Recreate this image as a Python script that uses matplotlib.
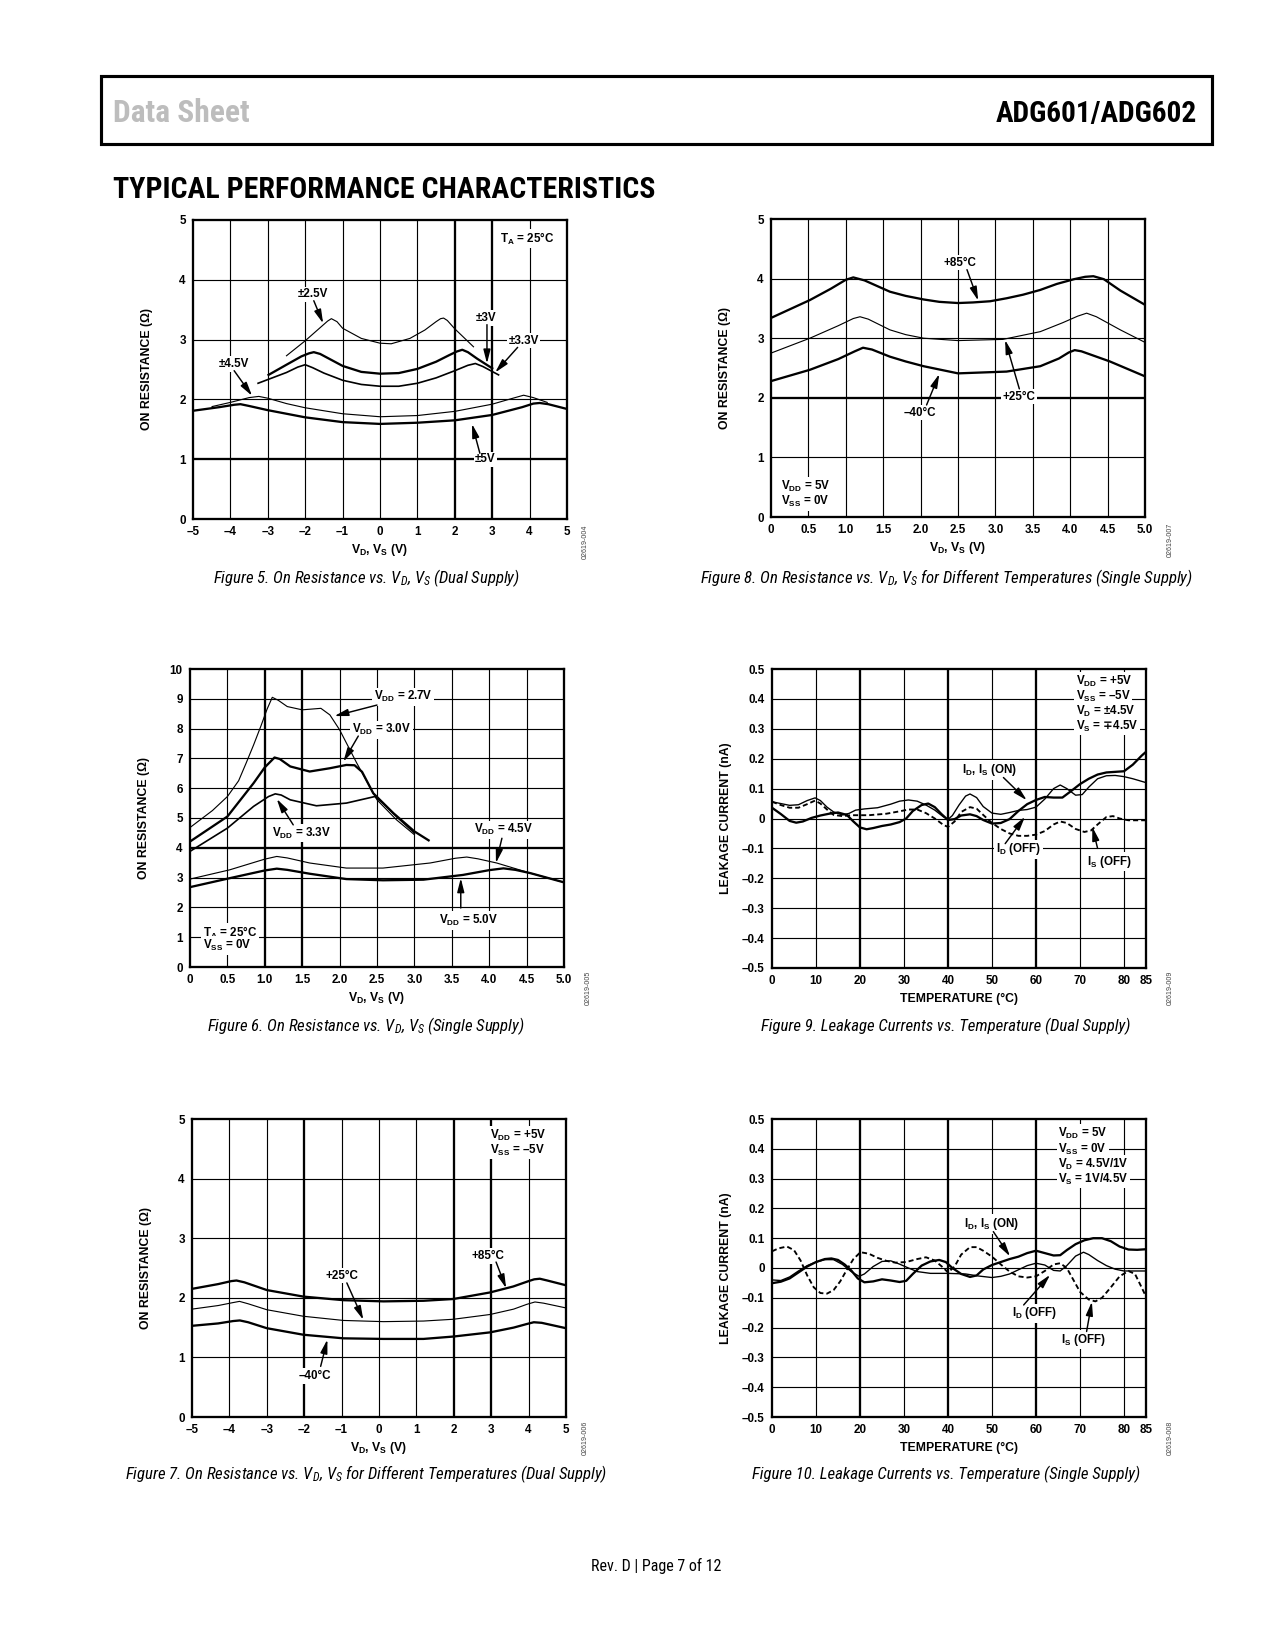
import matplotlib
matplotlib.use('Agg')
import matplotlib.pyplot as plt
from matplotlib.patches import Rectangle
from matplotlib import font_manager as fm

AVAIL = {f.name for f in fm.fontManager.ttflist}


def pick(prefs, default='DejaVu Sans'):
    for p in prefs:
        if p in AVAIL:
            return p
    return default


HEAD_FONT = pick(['Roboto Condensed', 'DejaVu Sans Condensed', 'Liberation Sans Narrow',
                  'Open Sans Condensed', 'Liberation Sans'])
CAP_FONT = pick(['Roboto Condensed', 'Liberation Sans Narrow', 'DejaVu Sans Condensed', 'Lato', 'Roboto'])

plt.rcParams['font.family'] = ['Liberation Sans', 'DejaVu Sans']
plt.rcParams['mathtext.fontset'] = 'custom'
plt.rcParams['mathtext.rm'] = 'Liberation Sans'
plt.rcParams['mathtext.bf'] = 'Liberation Sans:bold'
plt.rcParams['mathtext.sf'] = 'DejaVu Sans:bold'
plt.rcParams['mathtext.it'] = CAP_FONT + ':italic'

# ---------------- DATA ----------------
# Figure 5: On resistance vs VD, VS (dual supply)
f5_x_25 = [-2.5, -2.0, -1.6, -1.4, -1.3, -1.15, -1.0, -0.5, 0.0, 0.3, 0.8, 1.2, 1.5, 1.62, 1.7, 1.8, 2.0, 2.5]
f5_r_25 = [2.73, 2.98, 3.20, 3.31, 3.35, 3.30, 3.19, 3.02, 2.94, 2.93, 3.02, 3.16, 3.30, 3.35, 3.36, 3.32, 3.18, 2.88]
f5_x_30 = [-2.98, -2.5, -2.1, -1.9, -1.77, -1.6, -1.3, -1.0, -0.5, 0.0, 0.5, 1.0, 1.5, 1.85, 2.05, 2.2, 2.35, 2.6, 3.0]
f5_r_30 = [2.41, 2.58, 2.72, 2.77, 2.79, 2.76, 2.66, 2.56, 2.46, 2.43, 2.44, 2.51, 2.63, 2.74, 2.80, 2.83, 2.79, 2.68, 2.52]
f5_x_33 = [-3.26, -2.5, -2.2, -2.0, -1.8, -1.5, -1.0, -0.5, 0.0, 0.5, 1.0, 1.5, 2.0, 2.35, 2.55, 2.75, 3.17]
f5_r_33 = [2.27, 2.45, 2.54, 2.58, 2.53, 2.44, 2.32, 2.25, 2.22, 2.22, 2.27, 2.36, 2.48, 2.57, 2.60, 2.55, 2.41]
f5_x_45 = [-4.49, -4.0, -3.5, -3.24, -3.0, -2.5, -2.0, -1.0, 0.0, 1.0, 2.0, 3.0, 3.5, 3.84, 4.1, 4.47]
f5_r_45 = [1.88, 1.95, 2.03, 2.05, 2.02, 1.93, 1.86, 1.76, 1.71, 1.73, 1.80, 1.92, 2.01, 2.07, 2.03, 1.95]
f5_x_50 = [-5.0, -4.3, -3.9, -3.73, -3.5, -3.0, -2.0, -1.0, 0.0, 1.0, 2.0, 3.0, 3.8, 4.1, 4.27, 4.5, 5.0]
f5_r_50 = [1.81, 1.87, 1.91, 1.92, 1.89, 1.82, 1.70, 1.62, 1.59, 1.61, 1.65, 1.74, 1.87, 1.93, 1.94, 1.92, 1.84]

# Figure 8: On resistance vs VD, VS, temperatures (single supply)
f8_x_85 = [0.0, 0.52, 0.8, 1.0, 1.1, 1.25, 1.59, 1.8, 2.04, 2.25, 2.5, 2.7, 2.93, 3.15, 3.37, 3.6, 3.82, 4.05,
           4.2, 4.31, 4.45, 4.67, 5.0]
f8_r_85 = [3.34, 3.64, 3.83, 3.98, 4.02, 3.97, 3.78, 3.71, 3.65, 3.61, 3.59, 3.60, 3.62, 3.67, 3.73, 3.81, 3.91,
           3.99, 4.03, 4.04, 3.99, 3.80, 3.56]
f8_x_25 = [0.0, 0.52, 0.9, 1.1, 1.19, 1.3, 1.59, 1.8, 2.04, 2.5, 3.1, 3.6, 3.9, 4.1, 4.22, 4.35, 4.67, 5.0]
f8_r_25 = [2.75, 3.00, 3.21, 3.33, 3.36, 3.32, 3.14, 3.06, 3.00, 2.96, 2.98, 3.11, 3.26, 3.37, 3.42, 3.36, 3.14, 2.93]
f8_x_m40 = [0.0, 0.52, 0.9, 1.12, 1.23, 1.35, 1.59, 1.8, 2.04, 2.5, 3.15, 3.6, 3.85, 3.98, 4.06, 4.15, 4.53, 5.0]
f8_r_m40 = [2.28, 2.47, 2.65, 2.78, 2.84, 2.81, 2.69, 2.61, 2.53, 2.41, 2.44, 2.53, 2.66, 2.76, 2.80, 2.78, 2.61, 2.36]

# Figure 6: On resistance vs VD, VS (single supply)
f6_x_27 = [0.0, 0.3, 0.5, 0.65, 0.75, 0.85, 0.95, 1.03, 1.1, 1.18, 1.3, 1.5, 1.75, 1.87, 2.0, 2.23, 2.5, 2.76, 3.0]
f6_r_27 = [4.68, 5.25, 5.72, 6.25, 6.84, 7.45, 8.10, 8.65, 9.05, 8.95, 8.74, 8.63, 8.68, 8.46, 7.96, 6.84, 5.61, 4.94, 4.44]
f6_x_30 = [0.0, 0.5, 0.85, 1.0, 1.13, 1.2, 1.34, 1.6, 1.87, 2.09, 2.2, 2.3, 2.45, 2.72, 3.0, 3.19]
f6_r_30 = [4.21, 5.05, 6.17, 6.70, 7.03, 6.98, 6.73, 6.56, 6.67, 6.78, 6.77, 6.55, 5.83, 5.16, 4.55, 4.25]
f6_x_33 = [0.0, 0.5, 0.85, 1.05, 1.14, 1.22, 1.34, 1.69, 2.09, 2.35, 2.47, 2.58, 2.76, 3.0]
f6_r_33 = [3.88, 4.66, 5.39, 5.72, 5.81, 5.77, 5.61, 5.41, 5.50, 5.65, 5.72, 5.50, 5.05, 4.50]
f6_x_45 = [0.0, 0.53, 1.0, 1.16, 1.3, 1.6, 2.09, 2.58, 3.21, 3.55, 3.7, 3.85, 4.1, 4.55, 5.0]
f6_r_45 = [2.95, 3.26, 3.62, 3.71, 3.66, 3.49, 3.32, 3.32, 3.49, 3.65, 3.69, 3.63, 3.49, 3.15, 2.84]
f6_x_50 = [0.0, 0.53, 1.0, 1.16, 1.3, 1.6, 2.09, 2.58, 3.12, 3.65, 4.0, 4.19, 4.35, 4.55, 5.0]
f6_r_50 = [2.68, 2.98, 3.24, 3.30, 3.26, 3.13, 2.95, 2.91, 2.93, 3.09, 3.25, 3.31, 3.26, 3.15, 2.84]

# Figure 9: Leakage currents vs temperature (dual supply)
f9_t_on = [0, 2, 4, 5.5, 7, 9, 11, 13, 15, 17, 18.5, 20, 21.5, 23, 25, 27, 29, 30.5, 32, 34, 35.5, 37, 38.5,
           40, 41.5, 43, 45, 46.5, 48, 50, 52, 54, 56, 58, 60, 62, 64, 66, 68, 70, 72, 74, 76, 78, 80, 82, 84, 85]
f9_i_on = [0.036, 0.015, -0.008, -0.014, -0.01, 0.002, 0.01, 0.016, 0.02, 0.012, -0.01, -0.03, -0.036, -0.032,
           -0.025, -0.02, -0.012, 0.0, 0.025, 0.045, 0.05, 0.038, 0.015, -0.005, -0.002, 0.01, 0.014, 0.008,
           -0.005, -0.017, -0.015, -0.002, 0.025, 0.048, 0.062, 0.072, 0.07, 0.07, 0.092, 0.115, 0.133, 0.147,
           0.154, 0.156, 0.158, 0.18, 0.21, 0.223]
f9_t_doff = [0, 2, 4, 6, 8, 9.8, 11, 12.5, 14, 16, 17.5, 19, 21, 24, 27, 29, 31, 33, 35, 37, 39, 40, 41, 42.5,
             44, 45, 46.5, 48, 50, 52, 54, 56, 58, 60, 62, 64, 65.5, 67, 69, 70.5, 72, 74, 76, 78, 80, 82, 85]
f9_i_doff = [0.056, 0.05, 0.044, 0.046, 0.06, 0.069, 0.06, 0.038, 0.022, 0.012, 0.017, 0.028, 0.032, 0.036,
             0.048, 0.058, 0.062, 0.058, 0.045, 0.028, 0.005, -0.003, 0.01, 0.045, 0.075, 0.082, 0.07, 0.04,
             0.018, 0.014, 0.02, 0.027, 0.03, 0.038, 0.065, 0.1, 0.112, 0.1, 0.078, 0.08, 0.105, 0.133, 0.143,
             0.144, 0.14, 0.133, 0.12]
f9_t_soff = [0, 2, 4, 6, 8, 9.8, 11, 12.5, 14, 16, 18, 22, 26, 29, 31, 33, 35, 37, 39, 40, 41.5, 43, 45, 46.5,
             48, 50, 52, 54, 56, 58, 60, 62, 64, 65.5, 67, 69, 71, 72.5, 74, 76, 77.5, 79, 81, 85]
f9_i_soff = [0.056, 0.045, 0.036, 0.036, 0.048, 0.06, 0.05, 0.03, 0.012, 0.008, 0.011, 0.011, 0.016, 0.024,
             0.03, 0.03, 0.018, 0.0, -0.022, -0.028, -0.01, 0.022, 0.038, 0.033, 0.012, -0.015, -0.035, -0.05,
             -0.058, -0.058, -0.054, -0.042, -0.02, -0.01, -0.015, -0.035, -0.045, -0.04, -0.02, 0.005, 0.008,
             0.0, -0.006, -0.006]

# Figure 7: On resistance vs VD, VS, temperatures (dual supply)
f7_x_85 = [-5.0, -4.3, -3.95, -3.81, -3.6, -3.0, -2.02, -0.95, 0.12, 1.19, 1.99, 2.97, 3.59, 4.0, 4.15, 4.3,
           4.5, 5.0]
f7_r_85 = [2.15, 2.23, 2.28, 2.29, 2.26, 2.13, 2.02, 1.96, 1.94, 1.95, 1.98, 2.09, 2.19, 2.28, 2.31, 2.32,
           2.29, 2.21]
f7_x_25 = [-5.0, -4.3, -3.9, -3.73, -3.5, -3.0, -2.02, -0.95, 0.12, 1.19, 1.99, 2.97, 3.6, 3.95, 4.17, 4.4, 5.0]
f7_r_25 = [1.81, 1.87, 1.92, 1.94, 1.90, 1.80, 1.69, 1.62, 1.60, 1.61, 1.64, 1.72, 1.81, 1.89, 1.93, 1.91, 1.83]
f7_x_m40 = [-5.0, -4.3, -3.9, -3.72, -3.5, -3.0, -2.02, -0.95, 0.12, 1.19, 1.99, 2.97, 3.6, 3.95, 4.14, 4.35,
            5.0]
f7_r_m40 = [1.53, 1.57, 1.61, 1.62, 1.59, 1.49, 1.38, 1.32, 1.31, 1.31, 1.35, 1.42, 1.50, 1.56, 1.59, 1.58,
            1.49]

# Figure 10: Leakage currents vs temperature (single supply)
f10_t_on = [0, 2, 4, 6, 8, 10, 12, 13.5, 15, 16.5, 18, 19.5, 21, 23, 25, 27, 29, 30.5, 32, 34, 36, 38, 39.5,
            41, 43, 45, 46.5, 48, 50, 52, 54, 56, 58, 60, 62, 64, 65.5, 67, 69, 71, 73, 75, 77, 79, 81, 83, 85]
f10_i_on = [-0.051, -0.046, -0.035, -0.015, 0.005, 0.02, 0.03, 0.032, 0.027, 0.012, -0.008, -0.035, -0.048,
            -0.045, -0.038, -0.042, -0.047, -0.043, -0.02, 0.008, 0.022, 0.027, 0.02, 0.0, -0.02, -0.03, -0.025,
            -0.005, 0.01, 0.02, 0.03, 0.038, 0.05, 0.058, 0.05, 0.042, 0.043, 0.06, 0.08, 0.093, 0.1, 0.1,
            0.09, 0.072, 0.062, 0.061, 0.063]
f10_t_doff = [0, 2, 4, 6, 8, 10, 12, 14, 16, 18, 19.8, 21, 23, 25, 27, 29, 31, 33, 36, 40, 44, 47, 50, 52, 54,
              56, 58, 60, 62, 64, 65.5, 67, 69, 70.8, 72, 74, 76, 78, 80, 85]
f10_i_doff = [-0.04, -0.042, -0.03, -0.01, 0.008, 0.02, 0.028, 0.028, 0.012, -0.012, -0.028, -0.02, 0.005,
              0.022, 0.024, 0.013, 0.0, -0.012, -0.018, -0.018, -0.02, -0.027, -0.032, -0.028, -0.02, -0.006,
              0.008, 0.016, 0.01, -0.008, -0.01, 0.008, 0.04, 0.053, 0.045, 0.025, 0.008, -0.004, -0.01, -0.01]
f10_t_soff = [0, 1.5, 3.4, 5, 6.5, 8, 9.5, 11, 12.5, 14, 15.5, 17, 18.5, 20.1, 22, 24, 26, 28, 30.5, 33, 35, 37,
              39, 40, 41.5, 43, 45, 46.5, 48, 50, 52, 54, 56, 58, 60, 62, 64, 65.5, 67, 68.5, 70, 72, 73.5, 75,
              77, 79, 81, 82.5, 84, 85]
f10_i_soff = [0.056, 0.066, 0.072, 0.06, 0.025, -0.025, -0.065, -0.084, -0.086, -0.074, -0.045, -0.006, 0.03,
              0.053, 0.048, 0.034, 0.024, 0.018, 0.02, 0.03, 0.036, 0.025, 0.0, -0.015, 0.005, 0.045, 0.07, 0.07,
              0.058, 0.038, 0.012, -0.012, -0.028, -0.032, -0.028, -0.01, 0.012, 0.016, 0.0, -0.04, -0.08,
              -0.106, -0.112, -0.1, -0.065, -0.028, -0.01, -0.02, -0.065, -0.096]

# Tick labels
dual_xticks = [-5, -4, -3, -2, -1, 0, 1, 2, 3, 4, 5]
dual_xticklabels = ['–5', '–4', '–3', '–2', '–1', '0', '1', '2', '3', '4', '5']
single_xticks = [0, 0.5, 1.0, 1.5, 2.0, 2.5, 3.0, 3.5, 4.0, 4.5, 5.0]
single_xticklabels = ['0', '0.5', '1.0', '1.5', '2.0', '2.5', '3.0', '3.5', '4.0', '4.5', '5.0']
r5_yticks = [0, 1, 2, 3, 4, 5]
r5_yticklabels = ['0', '1', '2', '3', '4', '5']
r10_yticks = list(range(0, 11))
r10_yticklabels = [str(v) for v in r10_yticks]
temp_xticks = [0, 10, 20, 30, 40, 50, 60, 70, 80, 85]
temp_xticklabels = ['0', '10', '20', '30', '40', '50', '60', '70', '80', '85']
leak_yticks = [-0.5, -0.4, -0.3, -0.2, -0.1, 0, 0.1, 0.2, 0.3, 0.4, 0.5]
leak_yticklabels = ['–0.5', '–0.4', '–0.3', '–0.2', '–0.1', '0', '0.1', '0.2', '0.3', '0.4', '0.5']

# ---------------- FIGURE ----------------
W, H = 1275, 1650
fig = plt.figure(figsize=(W / 150, H / 150), dpi=150)
fig.patch.set_facecolor('white')

THIN, MED, THICK = 0.55, 0.8, 1.1
GTHIN, GTHICK = 0.55, 1.1
TICKFS = 5.6
AXFS = 5.9
LBLFS = 5.6


def make_ax(x0, y0, x1, y1):
    return fig.add_axes([x0 / W, 1 - y1 / H, (x1 - x0) / W, (y1 - y0) / H])


def setup(ax, xlim, ylim, xticks, xtl, yticks, ytl, vgrid, hgrid, thick_v, thick_h, xlabel, ylabel):
    ax.set_xlim(*xlim)
    ax.set_ylim(*ylim)
    ax.set_xticks(xticks)
    ax.set_xticklabels(xtl, fontsize=TICKFS, fontweight='bold')
    ax.set_yticks(yticks)
    ax.set_yticklabels(ytl, fontsize=TICKFS, fontweight='bold')
    ax.tick_params(length=0, pad=3.5)
    for s in ax.spines.values():
        s.set_linewidth(1.1)
    for v in vgrid:
        ax.axvline(v, color='black', lw=GTHICK if v in thick_v else GTHIN, zorder=1)
    for h in hgrid:
        ax.axhline(h, color='black', lw=GTHICK if h in thick_h else GTHIN, zorder=1)
    ax.text(0.5, -31 / 299, xlabel, transform=ax.transAxes, ha='center', va='center',
            fontsize=AXFS, fontweight='bold')
    ax.text(-46 / 374, 0.5, ylabel, transform=ax.transAxes, ha='center', va='center',
            rotation=90, fontsize=AXFS, fontweight='bold')


def label(ax, x, y, s, ha='center'):
    ax.text(x, y, s, ha=ha, va='center', fontsize=LBLFS, fontweight='bold', zorder=2.5,
            bbox=dict(fc='white', ec='none', pad=0.8))


def arrow(ax, x0, y0, x1, y1):
    ax.annotate('', xy=(x1, y1), xytext=(x0, y0), zorder=4,
                arrowprops=dict(arrowstyle='-|>,head_length=0.55,head_width=0.14', lw=0.7,
                                color='black', shrinkA=0, shrinkB=0))


def code(x, y, s):
    fig.text(x / W, 1 - y / H, s, rotation=90, ha='center', va='center', fontsize=3.4, color='#444444')


captions = []


def caption(x, y, s):
    t = fig.text(x / W, 1 - y / H, s, ha='center', va='center', fontsize=8.0, style='italic',
                 family=[CAP_FONT, 'DejaVu Sans'])
    captions.append(t)
    return t


VDVS = r'$\mathbf{V_D}$, $\mathbf{V_S}$ (V)'
RON = 'ON RESISTANCE (Ω)'

# ---- Header ----
fig.patches.append(Rectangle((101 / W, 1 - 144 / H), (1212 - 101) / W, (144 - 76) / H,
                             transform=fig.transFigure, fill=False, lw=1.5, ec='black'))
t_ds = fig.text(113 / W, 1 - 122 / H, 'Data Sheet', ha='left', va='baseline', fontsize=15,
                fontweight='bold', color='#bdbdbd', family=[HEAD_FONT, 'DejaVu Sans'])
t_adg = fig.text(1197 / W, 1 - 122 / H, 'ADG601/ADG602', ha='right', va='baseline', fontsize=15,
                 fontweight='bold', color='black', family=[HEAD_FONT, 'DejaVu Sans'])
t_title = fig.text(113 / W, 1 - 198 / H, 'TYPICAL PERFORMANCE CHARACTERISTICS', ha='left', va='baseline',
                   fontsize=15, fontweight='bold', color='black', family=[HEAD_FONT, 'DejaVu Sans'])
t_foot = fig.text(656 / W, 1 - 1566 / H, 'Rev. D | Page 7 of 12', ha='center', va='center', fontsize=8,
                  family=[CAP_FONT, 'DejaVu Sans'])

# ---- Figure 5 ----
ax = make_ax(193, 220, 567, 519)
setup(ax, (-5, 5), (0, 5), dual_xticks, dual_xticklabels, r5_yticks, r5_yticklabels,
      [-4, -3, -2, -1, 0, 1, 2, 3, 4], [1, 2, 3, 4], [2, 3], [1], VDVS, RON)
ax.plot(f5_x_25, f5_r_25, color='black', lw=THIN, zorder=3)
ax.plot(f5_x_30, f5_r_30, color='black', lw=THICK, zorder=3)
ax.plot(f5_x_33, f5_r_33, color='black', lw=MED, zorder=3)
ax.plot(f5_x_45, f5_r_45, color='black', lw=THIN, zorder=3)
ax.plot(f5_x_50, f5_r_50, color='black', lw=THICK, zorder=3)
label(ax, 3.93, 4.69, r'$\mathbf{T_A}$ = 25°C')
label(ax, -1.8, 3.76, '±2.5V')
arrow(ax, -1.77, 3.65, -1.52, 3.27)
label(ax, 2.84, 3.36, '±3V')
arrow(ax, 2.86, 3.25, 2.86, 2.6)
label(ax, 3.84, 2.98, '±3.3V')
arrow(ax, 3.68, 2.87, 3.08, 2.45)
label(ax, -3.9, 2.59, '±4.5V')
arrow(ax, -3.9, 2.48, -3.42, 2.06)
label(ax, 2.82, 1.0, '±5V')
arrow(ax, 2.67, 1.10, 2.46, 1.59)
caption(366, 578, r'Figure 5. On Resistance vs. $\mathit{V_D}$, $\mathit{V_S}$ (Dual Supply)')
code(585, 542, '02619-004')

# ---- Figure 8 ----
ax = make_ax(771, 219, 1145, 517)
setup(ax, (0, 5), (0, 5), single_xticks, single_xticklabels, r5_yticks, r5_yticklabels,
      [0.5, 1.0, 1.5, 2.0, 2.5, 3.0, 3.5, 4.0, 4.5], [1, 2, 3, 4], [], [2], VDVS, RON)
ax.plot(f8_x_85, f8_r_85, color='black', lw=THICK, zorder=3)
ax.plot(f8_x_25, f8_r_25, color='black', lw=THIN, zorder=3)
ax.plot(f8_x_m40, f8_r_m40, color='black', lw=THICK, zorder=3)
label(ax, 2.53, 4.27, '+85°C')
arrow(ax, 2.62, 4.15, 2.77, 3.63)
label(ax, 3.32, 2.02, '+25°C')
arrow(ax, 3.32, 2.15, 3.13, 2.97)
label(ax, 1.99, 1.75, '–40°C')
arrow(ax, 2.08, 1.88, 2.25, 2.40)
label(ax, 0.14, 0.51, r'$\mathbf{V_{DD}}$ = 5V', ha='left')
label(ax, 0.14, 0.26, r'$\mathbf{V_{SS}}$ = 0V', ha='left')
cap8 = caption(946, 578, r'Figure 8. On Resistance vs. $\mathit{V_D}$, $\mathit{V_S}$ for Different Temperatures (Single Supply)')
code(1170, 540, '02619-007')

# ---- Figure 6 ----
ax = make_ax(190, 669, 564, 967)
setup(ax, (0, 5), (0, 10), single_xticks, single_xticklabels, r10_yticks, r10_yticklabels,
      [0.5, 1.0, 1.5, 2.0, 2.5, 3.0, 3.5, 4.0, 4.5], list(range(1, 10)), [1.0, 1.5], [4], VDVS, RON)
ax.plot(f6_x_27, f6_r_27, color='black', lw=THIN, zorder=3)
ax.plot(f6_x_30, f6_r_30, color='black', lw=THICK, zorder=3)
ax.plot(f6_x_33, f6_r_33, color='black', lw=MED, zorder=3)
ax.plot(f6_x_45, f6_r_45, color='black', lw=THIN, zorder=3)
ax.plot(f6_x_50, f6_r_50, color='black', lw=THICK, zorder=3)
label(ax, 2.85, 9.07, r'$\mathbf{V_{DD}}$ = 2.7V')
arrow(ax, 2.50, 8.79, 1.93, 8.42)
label(ax, 2.56, 7.96, r'$\mathbf{V_{DD}}$ = 3.0V')
arrow(ax, 2.25, 7.75, 2.05, 6.89)
label(ax, 1.49, 4.49, r'$\mathbf{V_{DD}}$ = 3.3V')
arrow(ax, 1.38, 4.77, 1.16, 5.64)
label(ax, 4.19, 4.60, r'$\mathbf{V_{DD}}$ = 4.5V')
arrow(ax, 4.17, 4.32, 4.09, 3.49)
label(ax, 3.72, 1.56, r'$\mathbf{V_{DD}}$ = 5.0V')
arrow(ax, 3.62, 1.98, 3.62, 2.98)
label(ax, 0.17, 1.14, r'$\mathbf{T_A}$ = 25°C', ha='left')
label(ax, 0.17, 0.72, r'$\mathbf{V_{SS}}$ = 0V', ha='left')
caption(366, 1026, r'Figure 6. On Resistance vs. $\mathit{V_D}$, $\mathit{V_S}$ (Single Supply)')
code(588, 988, '02619-005')

# ---- Figure 9 ----
ax = make_ax(772, 669, 1146, 968)
setup(ax, (0, 85), (-0.5, 0.5), temp_xticks, temp_xticklabels, leak_yticks, leak_yticklabels,
      [10, 20, 30, 40, 50, 60, 70, 80], [-0.4, -0.3, -0.2, -0.1, 0, 0.1, 0.2, 0.3, 0.4],
      [20, 40, 60], [], 'TEMPERATURE (°C)', 'LEAKAGE CURRENT (nA)')
ax.plot(f9_t_on, f9_i_on, color='black', lw=THICK, zorder=3)
ax.plot(f9_t_doff, f9_i_doff, color='black', lw=0.65, zorder=3)
ax.plot(f9_t_soff, f9_i_soff, color='black', lw=0.9, ls=(0, (2.7, 1.6)), zorder=3)
label(ax, 69.0, 0.458, r'$\mathbf{V_{DD}}$ = +5V', ha='left')
label(ax, 69.0, 0.407, r'$\mathbf{V_{SS}}$ = –5V', ha='left')
label(ax, 69.0, 0.357, r'$\mathbf{V_D}$ = ±4.5V', ha='left')
label(ax, 69.0, 0.309, r'$\mathbf{V_S}$ = $\mathsf{\mp}$4.5V', ha='left')
label(ax, 49.4, 0.162, r'$\mathbf{I_D}$, $\mathbf{I_S}$ (ON)')
arrow(ax, 52.6, 0.137, 57.9, 0.061)
label(ax, 56.0, -0.103, r'$\mathbf{I_D}$ (OFF)')
arrow(ax, 53.0, -0.084, 57.5, 0.006)
label(ax, 76.8, -0.145, r'$\mathbf{I_S}$ (OFF)')
arrow(ax, 74.0, -0.10, 72.8, -0.028)
caption(946, 1026, 'Figure 9. Leakage Currents vs. Temperature (Dual Supply)')
code(1170, 988, '02619-009')

# ---- Figure 7 ----
ax = make_ax(192, 1119, 566, 1417)
setup(ax, (-5, 5), (0, 5), dual_xticks, dual_xticklabels, r5_yticks, r5_yticklabels,
      [-4, -3, -2, -1, 0, 1, 2, 3, 4], [1, 2, 3, 4], [-2, 2, 3], [], VDVS, RON)
ax.plot(f7_x_85, f7_r_85, color='black', lw=THICK, zorder=3)
ax.plot(f7_x_25, f7_r_25, color='black', lw=THIN, zorder=3)
ax.plot(f7_x_m40, f7_r_m40, color='black', lw=THICK, zorder=3)
label(ax, 2.97, 4.73, r'$\mathbf{V_{DD}}$ = +5V', ha='left')
label(ax, 2.97, 4.48, r'$\mathbf{V_{SS}}$ = –5V', ha='left')
label(ax, 2.92, 2.70, '+85°C')
arrow(ax, 3.13, 2.60, 3.40, 2.16)
label(ax, -1.0, 2.37, '+25°C')
arrow(ax, -0.86, 2.25, -0.42, 1.63)
label(ax, -1.71, 0.69, '–40°C')
arrow(ax, -1.56, 0.85, -1.38, 1.30)
caption(366, 1474, r'Figure 7. On Resistance vs. $\mathit{V_D}$, $\mathit{V_S}$ for Different Temperatures (Dual Supply)')
code(585, 1438, '02619-006')

# ---- Figure 10 ----
ax = make_ax(772, 1119, 1146, 1417)
setup(ax, (0, 85), (-0.5, 0.5), temp_xticks, temp_xticklabels, leak_yticks, leak_yticklabels,
      [10, 20, 30, 40, 50, 60, 70, 80], [-0.4, -0.3, -0.2, -0.1, 0, 0.1, 0.2, 0.3, 0.4],
      [20, 40, 60], [], 'TEMPERATURE (°C)', 'LEAKAGE CURRENT (nA)')
ax.plot(f10_t_on, f10_i_on, color='black', lw=THICK, zorder=3)
ax.plot(f10_t_doff, f10_i_doff, color='black', lw=0.65, zorder=3)
ax.plot(f10_t_soff, f10_i_soff, color='black', lw=0.9, ls=(0, (2.7, 1.6)), zorder=3)
label(ax, 65.1, 0.452, r'$\mathbf{V_{DD}}$ = 5V', ha='left')
label(ax, 65.1, 0.398, r'$\mathbf{V_{SS}}$ = 0V', ha='left')
label(ax, 65.1, 0.349, r'$\mathbf{V_D}$ = 4.5V/1V', ha='left')
label(ax, 65.1, 0.298, r'$\mathbf{V_S}$ = 1V/4.5V', ha='left')
label(ax, 49.8, 0.148, r'$\mathbf{I_D}$, $\mathbf{I_S}$ (ON)')
arrow(ax, 50.3, 0.122, 54.1, 0.039)
label(ax, 59.8, -0.152, r'$\mathbf{I_D}$ (OFF)')
arrow(ax, 57.2, -0.124, 63.2, -0.023)
label(ax, 70.8, -0.241, r'$\mathbf{I_S}$ (OFF)')
arrow(ax, 71.5, -0.213, 72.7, -0.113)
caption(946, 1474, 'Figure 10. Leakage Currents vs. Temperature (Single Supply)')
code(1170, 1438, '02619-008')

# ---- fit header / caption text widths to the reference page ----
fig.canvas.draw()
r = fig.canvas.get_renderer()
for t, target in [(t_ds, 137), (t_adg, 202), (t_title, 541), (t_foot, 131)]:
    w = t.get_window_extent(r).width
    t.set_fontsize(t.get_fontsize() * target / w)
w8 = cap8.get_window_extent(r).width
cap_size = 8.0 * 493 / w8
for t in captions:
    t.set_fontsize(cap_size)

fig.savefig('out.png', dpi=150, facecolor='white')
